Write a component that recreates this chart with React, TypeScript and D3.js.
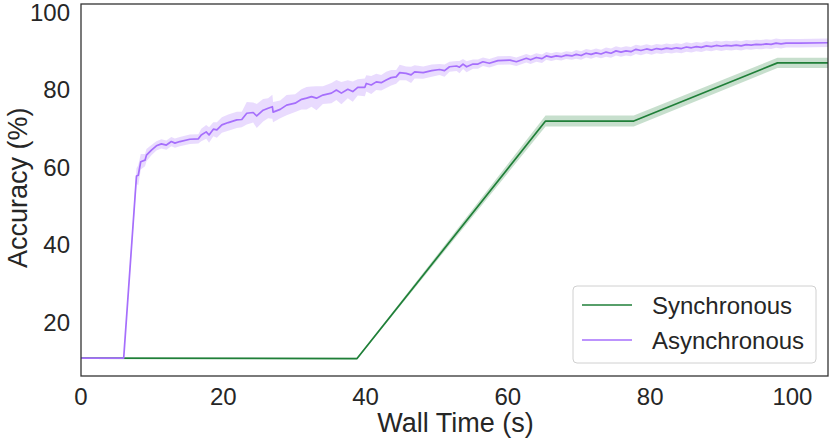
import React from 'react';
import * as d3 from 'd3';

// wall time (s), mean accuracy (%), std (%)
const syncTime = [0, 38.8, 65.3, 77.7, 97.9, 105];
const syncAcc = [10.6, 10.5, 71.8, 71.8, 86.8, 86.8];
const syncStd = [0.1, 0.2, 1.4, 1.4, 1.3, 1.3];

const asyncTime = [
	0, 6.0, 7.8, 8.05, 8.4, 9.0, 9.2, 9.9, 10.6, 11.3, 12.0, 12.7, 13.2, 13.9, 15.3, 16.5, 16.9, 17.6, 18.0, 18.6,
	19.1, 19.8, 20.7, 21.9, 22.6, 23.3, 24.2, 24.7, 25.6, 26.3, 26.9, 27.0, 28.0, 28.9, 30.1, 31.0, 31.7, 32.4, 33.1, 34.0,
	35.2, 35.9, 36.6, 37.5, 38.2, 38.9, 39.9, 40.1, 40.8, 41.5, 42.2, 42.9, 43.6, 44.3, 44.8, 45.7, 46.4, 46.9, 48.1, 49.3,
	50.4, 51.1, 51.8, 52.8, 53.2, 53.7, 54.2, 55.1, 55.8, 56.5, 57.4, 58.6, 60.3, 61.2, 62.6, 63.2, 64.0, 64.8, 65.4, 66.1,
	66.8, 67.5, 68.2, 69.0, 69.6, 70.3, 71.0, 71.7, 72.4, 73.1, 73.8, 74.5, 75.2, 75.9, 76.6, 77.3, 78.0, 78.7, 79.5, 80.2,
	80.9, 81.6, 82.3, 83.0, 83.7, 84.4, 85.1, 85.8, 86.5, 87.2, 87.9, 88.6, 89.3, 90.0, 90.7, 91.4, 92.1, 92.8, 93.5, 94.2,
	94.9, 95.6, 96.3, 97.0, 97.7, 98.4, 99.1, 101, 105,
];
const asyncAcc = [
	10.6, 10.6, 57.6, 57.8, 61.3, 61.7, 63.0, 64.3, 65.4, 65.9, 65.6, 66.5, 66.1, 66.5, 67.1, 67.2, 68.2, 69.0, 68.2, 69.7,
	69.5, 70.8, 71.4, 72.1, 72.2, 73.8, 74.0, 73.1, 74.6, 75.1, 75.5, 74.1, 74.8, 75.9, 76.4, 77.4, 77.7, 78.1, 77.7, 78.5,
	79.0, 79.8, 79.0, 80.0, 79.4, 80.5, 80.5, 81.5, 81.1, 81.9, 81.7, 82.4, 83.0, 83.2, 84.3, 84.1, 83.7, 84.5, 84.3, 84.8,
	85.1, 84.8, 85.8, 86.0, 85.7, 86.5, 85.8, 86.5, 86.5, 87.1, 86.7, 87.4, 87.5, 87.1, 88.0, 87.6, 88.2, 87.9, 88.6, 88.3,
	88.6, 88.4, 88.8, 88.6, 89.0, 88.7, 89.3, 89.0, 89.4, 89.1, 89.6, 89.3, 89.9, 89.6, 89.9, 89.7, 90.3, 90.0, 90.4, 90.1,
	90.5, 90.3, 90.6, 90.4, 90.7, 90.5, 90.9, 90.7, 91.0, 90.8, 91.2, 91.0, 91.3, 91.1, 91.3, 91.2, 91.4, 91.2, 91.5, 91.4,
	91.6, 91.5, 91.7, 91.6, 91.9, 91.7, 91.9, 91.9, 92.0,
];
const asyncStd = [
	0.1, 0.1, 2.0, 2.6, 2.0, 1.6, 1.6, 1.3, 1.2, 1.2, 1.2, 1.2, 1.2, 1.2, 1.2, 1.2, 1.6, 1.8, 2.0, 1.8,
	2.0, 2.0, 2.1, 2.1, 2.0, 2.9, 2.6, 3.1, 2.9, 2.6, 3.1, 2.6, 2.3, 2.6, 2.3, 2.6, 2.9, 2.6, 3.1, 2.3,
	2.6, 2.6, 2.9, 2.3, 2.6, 2.1, 2.3, 2.1, 2.3, 2.1, 2.0, 2.1, 2.0, 1.8, 2.0, 1.8, 2.1, 1.7, 1.6, 1.6,
	1.4, 1.6, 1.3, 1.3, 1.6, 1.3, 1.4, 1.2, 1.2, 1.1, 1.1, 1.1, 1.1, 1.1, 1.1, 1.1, 1.1, 1.1, 1.0, 1.0,
	1.0, 1.0, 1.0, 1.0, 1.1, 1.1, 1.1, 1.1, 1.1, 1.1, 1.2, 1.2, 1.2, 1.2, 1.2, 1.2, 1.2, 1.2, 1.2, 1.2,
	1.2, 1.2, 1.2, 1.2, 1.2, 1.2, 1.2, 1.2, 1.2, 1.2, 1.2, 1.2, 1.2, 1.2, 1.2, 1.2, 1.2, 1.2, 1.2, 1.2,
	1.2, 1.2, 1.2, 1.2, 1.2, 1.2, 1.1, 1.1, 1.1,
];

const xTicks = [0, 20, 40, 60, 80, 100];
const yTicks = [20, 40, 60, 80, 100];

const seriesNames = ['Synchronous', 'Asynchronous'];
const seriesColors = ['#1f7f38', '#a66ffc'];

const width = 830;
const height = 439;
const margin = { top: 4, right: 2, bottom: 63, left: 81 };
const font = '"Liberation Sans", Arial, sans-serif';

type Pt = { t: number, m: number, s: number };

const zip = (t: number[], m: number[], s: number[]): Pt[] => t.map((v, i) => ({ t: v, m: m[i], s: s[i] }));

const App = () => {
	const innerWidth = width - margin.left - margin.right;
	const innerHeight = height - margin.top - margin.bottom;

	const x = d3.scaleLinear().domain([0, 105]).range([0, innerWidth]);
	const y = d3.scaleLinear().domain([6, 102]).range([innerHeight, 0]);

	const line = d3.line<Pt>().x(d => x(d.t)).y(d => y(d.m));
	const band = d3.area<Pt>().x(d => x(d.t)).y0(d => y(d.m - d.s)).y1(d => y(d.m + d.s));

	const series = [zip(syncTime, syncAcc, syncStd), zip(asyncTime, asyncAcc, asyncStd)];

	const lx = 573 - margin.left;
	const ly = 286 - margin.top;

	return (
		<svg width={width} height={height} style={{ position: 'absolute', left: 0, top: 0 }} fontFamily={font}>
			<g transform={`translate(${margin.left},${margin.top})`}>
				<defs>
					<clipPath id="plot">
						<rect width={innerWidth} height={innerHeight} />
					</clipPath>
				</defs>
				<g clipPath="url(#plot)">
					{series.map((d, i) => (
						<path key={'b' + i} d={band(d) || ''} fill={seriesColors[i]} fillOpacity={0.25} stroke="none" />
					))}
					{series.map((d, i) => (
						<path key={'l' + i} d={line(d) || ''} fill="none" stroke={seriesColors[i]} strokeWidth={1.7} strokeLinejoin="round" />
					))}
				</g>
				<rect width={innerWidth} height={innerHeight} fill="none" stroke="#333" strokeWidth={1.3} />

				{xTicks.map(t => (
					<text key={t} x={x(t)} y={innerHeight + 29} textAnchor="middle" fontSize={24} fill="#262626">{t}</text>
				))}
				{yTicks.map(t => (
					<text key={t} x={-11} y={y(t)} dy="0.38em" textAnchor="end" fontSize={24} fill="#262626">{t}</text>
				))}

				<text x={innerWidth / 2 + 1} y={innerHeight + 56} textAnchor="middle" fontSize={27} fill="#262626">Wall Time (s)</text>
				<text transform={`translate(${-54},${y(54.6)}) rotate(-90)`} textAnchor="middle" fontSize={27} fill="#262626">Accuracy (%)</text>

				<g transform={`translate(${lx},${ly})`}>
					<rect width={243} height={77} rx={4} fill="white" fillOpacity={0.8} stroke="#d0d0d0" strokeWidth={1} />
					{seriesNames.map((n, i) => (
						<g key={n} transform={`translate(0,${19 + i * 35})`}>
							<line x1={9} x2={59} stroke={seriesColors[i]} strokeWidth={1.7} />
							<text x={79} dy="0.36em" fontSize={24} fill="#262626">{n}</text>
						</g>
					))}
				</g>
			</g>
		</svg>
	);
};

export default App;
